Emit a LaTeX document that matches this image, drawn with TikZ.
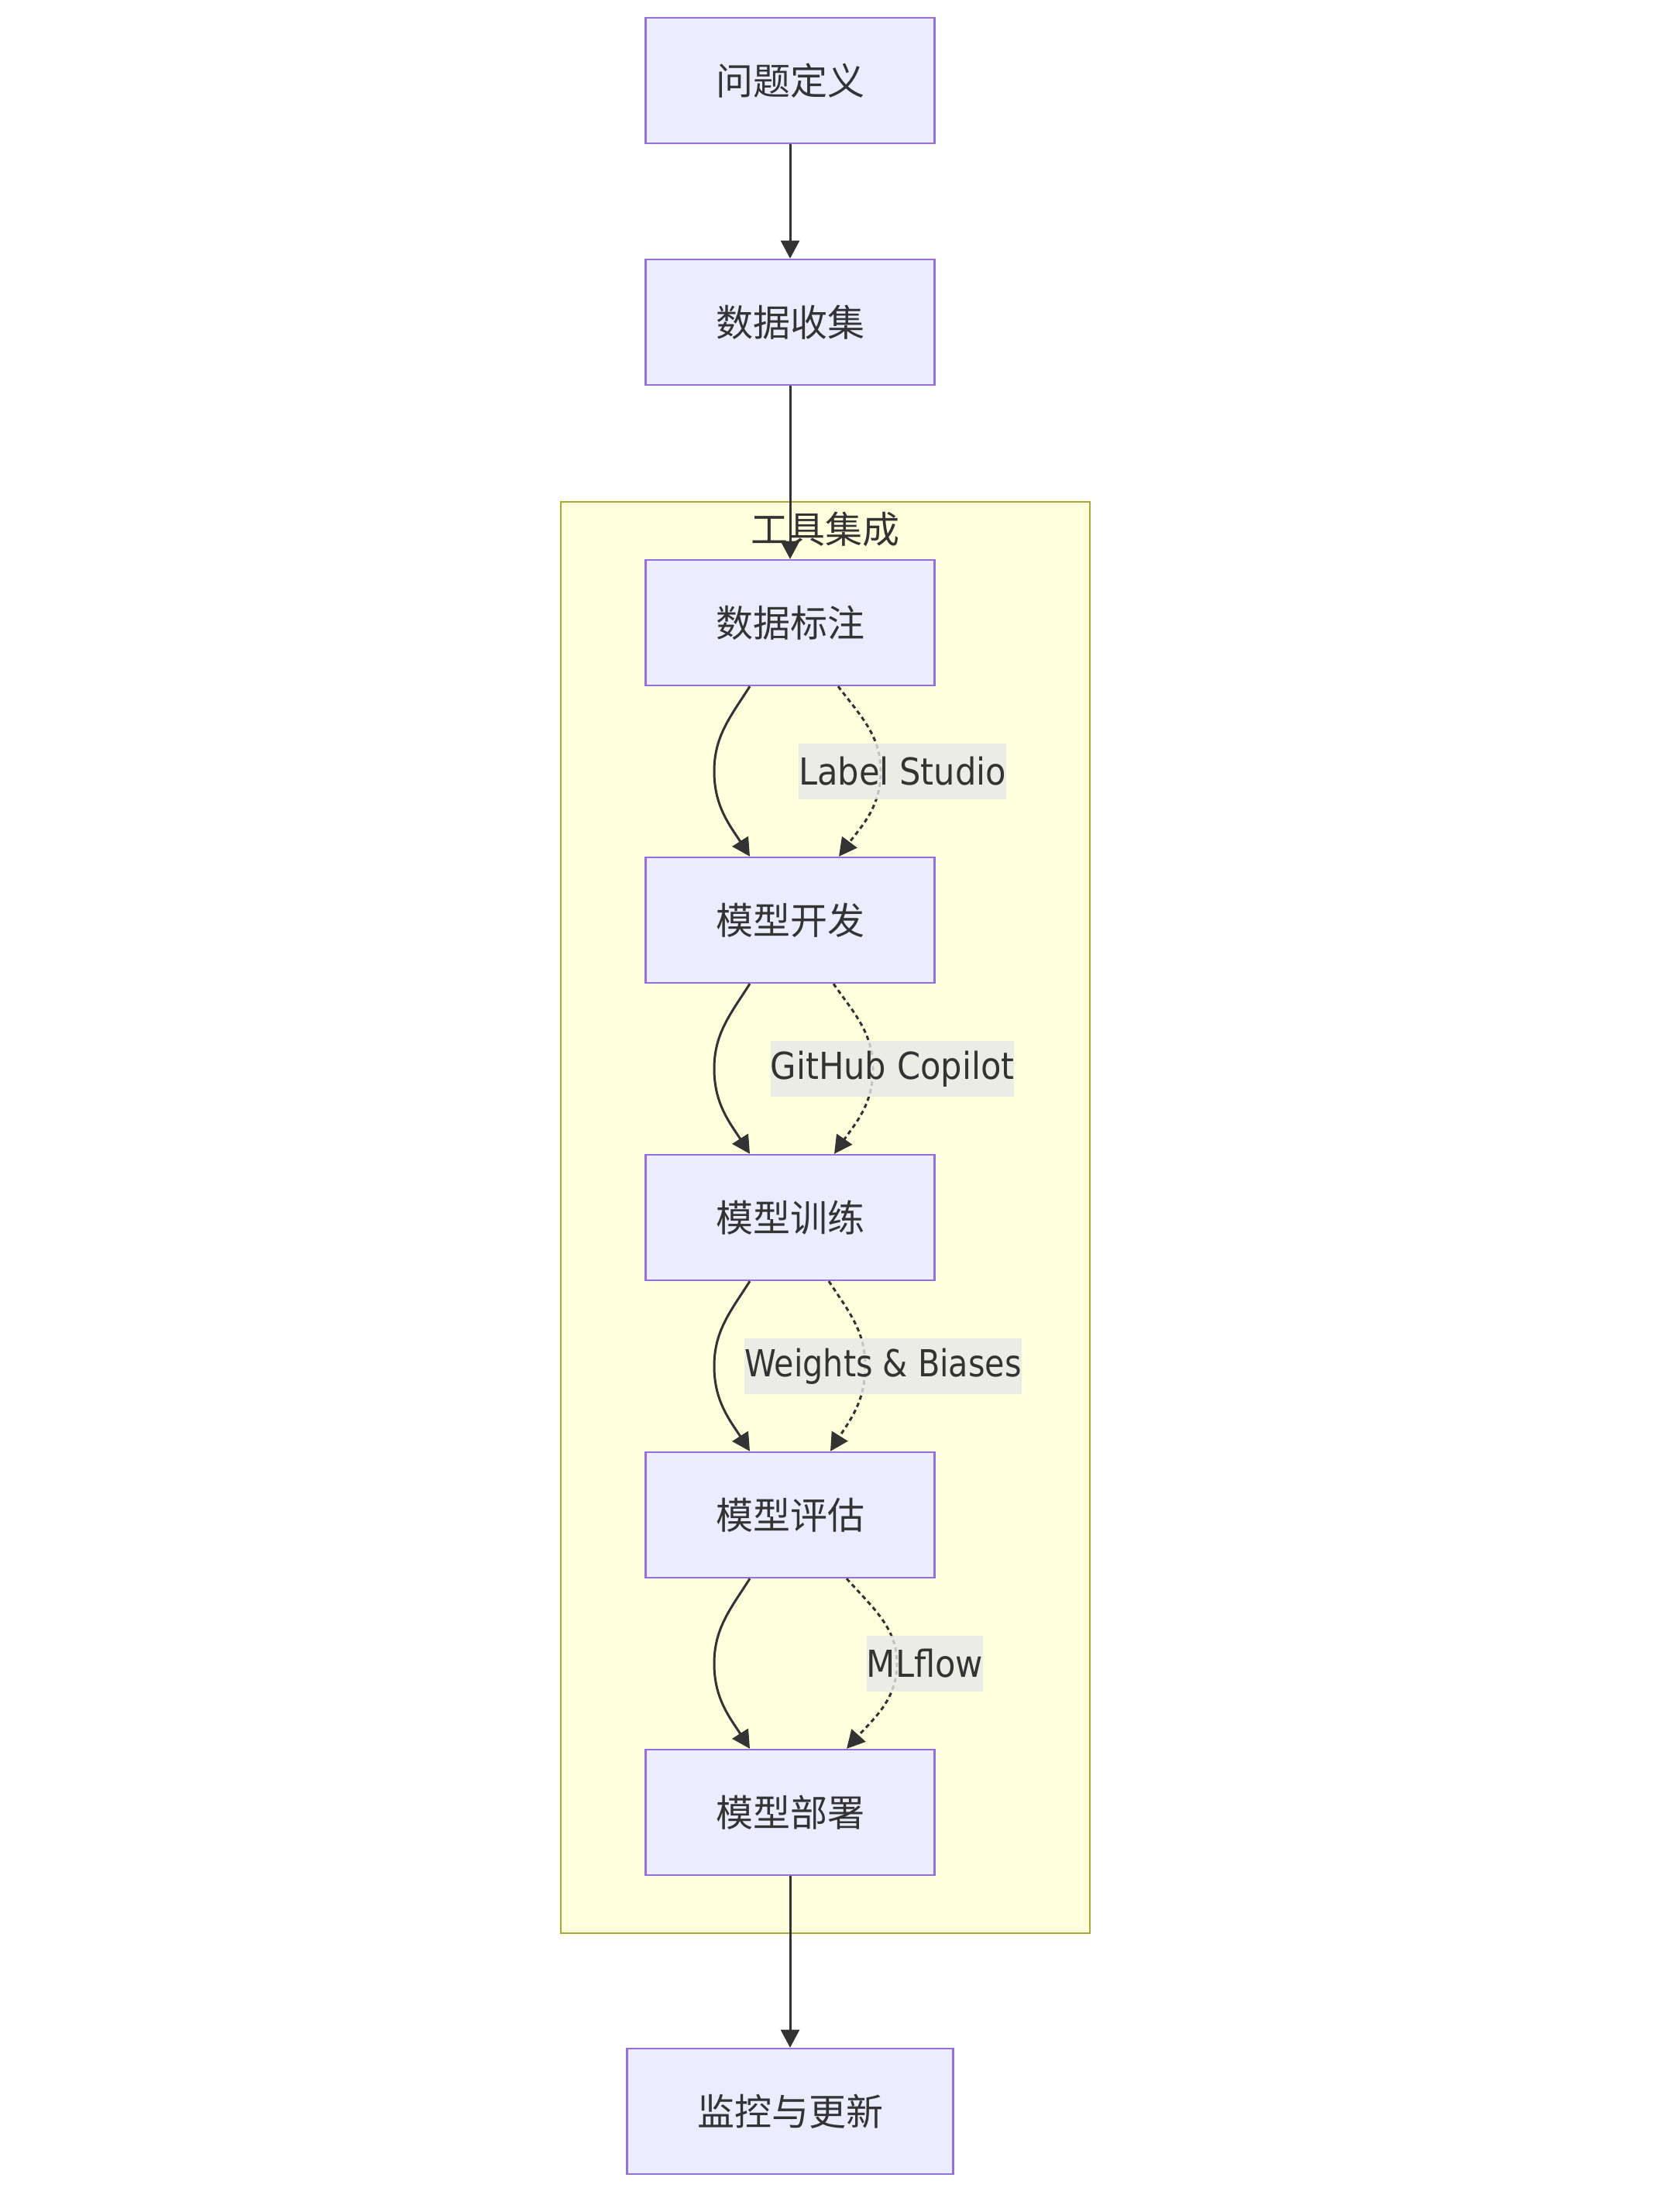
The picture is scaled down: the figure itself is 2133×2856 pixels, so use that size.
\documentclass[tikz,border=0pt]{standalone}
\usepackage{fontspec}
\setmainfont[FakeStretch=0.9]{DejaVu Sans}
\newfontfamily\cjk{Noto Sans CJK SC}
\usetikzlibrary{arrows.meta,calc}
\definecolor{nodefill}{HTML}{ECECFF}
\definecolor{nodestroke}{HTML}{9370DB}
\definecolor{grpfill}{HTML}{FFFFDE}
\definecolor{grpstroke}{HTML}{AAAA33}
\definecolor{textcol}{HTML}{333333}
\definecolor{edgecol}{HTML}{333333}
\definecolor{labelfill}{HTML}{E8E8E8}
\newcommand\bendedge[6]{%
  \path ($(#2.south)+(#4,0)$) coordinate (bs)
        ($(#2.south)!0.5!(#3.north)+(#5,0)$) coordinate (bm)
        ($(#3.north)+(#6,0)$) coordinate (be);
  \draw[#1] (bs) .. controls ($(bs)+({0.54*((#5)-(#4))},39)$) and ($(bm)+(0,-46)$) .. (bm)
        .. controls ($(bm)+(0,46)$) and ($(be)+({0.54*((#5)-(#6))},-39)$) .. (be);
}
\begin{document}
\begin{tikzpicture}[x=0.25pt,y=-0.25pt,
  box/.style={draw=nodestroke, fill=nodefill, line width=0.6pt,
    minimum width=93.25pt, minimum height=40.5pt, inner sep=0pt,
    font=\cjk\fontsize{12pt}{14pt}\selectfont, text=textcol},
  widebox/.style={box, minimum width=105.25pt},
  grp/.style={draw=grpstroke, fill=grpfill, line width=0.65pt,
    minimum width=170.75pt, minimum height=462pt, inner sep=0pt},
  grptitle/.style={font=\cjk\fontsize{12pt}{14pt}\selectfont, text=textcol, inner sep=0pt},
  edge/.style={draw=edgecol, line width=0.75pt, -{Triangle[length=5.8pt,width=6pt]}},
  dotedge/.style={edge, dash pattern=on 1.4pt off 1.1pt},
  edgelabel/.style={fill=labelfill, fill opacity=0.8, text opacity=1,
    inner xsep=0pt, inner ysep=0pt, minimum height=18pt,
    font=\fontsize{12pt}{14pt}\selectfont, text=textcol}
]
\useasboundingbox (0,0) rectangle (2133,2856);

% subgraph
\node[grp] (tools) at (1065.5,1572) {};
\node[grptitle] (toolstitle) at (1065.5,683) {工具集成};

% nodes
\node[box] (def) at (1020,104) {问题定义};
\node[box] (collect) at (1020,416) {数据收集};
\node[box] (label) at (1020,804) {数据标注};
\node[box] (dev) at (1020,1188) {模型开发};
\node[box] (train) at (1020,1572) {模型训练};
\node[box] (eval) at (1020,1956) {模型评估};
\node[box] (deploy) at (1020,2340) {模型部署};
\node[widebox] (monitor) at (1020,2726) {监控与更新};

% straight edges
\draw[edge] (def.south) -- (collect.north);
\draw[edge] (collect.south) -- (label.north);
\draw[edge] (deploy.south) -- (monitor.north);

% solid curved edges
\bendedge{edge}{label}{dev}{-52}{-98}{-52}
\bendedge{edge}{dev}{train}{-52}{-98}{-52}
\bendedge{edge}{train}{eval}{-52}{-98}{-52}
\bendedge{edge}{eval}{deploy}{-52}{-98}{-52}

% dotted curved edges
\bendedge{dotedge}{label}{dev}{62}{117}{63}
\bendedge{dotedge}{dev}{train}{56}{107}{57}
\bendedge{dotedge}{train}{eval}{50}{97}{52}
\bendedge{dotedge}{eval}{deploy}{73}{138}{73}

% edge labels
\node[edgelabel] (l1) at (1165,996) {Label Studio};
\node[edgelabel] (l2) at (1152,1380) {GitHub Copilot};
\node[edgelabel] (l3) at (1140,1764) {\addfontfeature{FakeStretch=0.86}Weights \& Biases};
\node[edgelabel] (l4) at (1194,2148) {MLflow};
\end{tikzpicture}
\end{document}
